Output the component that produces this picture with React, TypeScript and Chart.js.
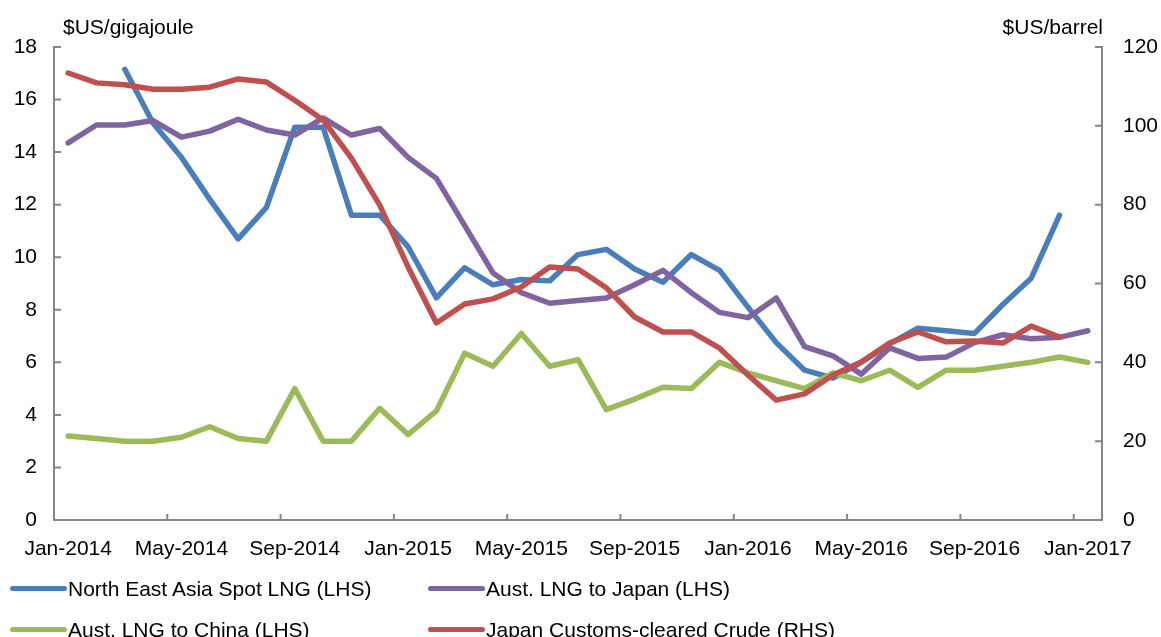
import React, { useEffect, useRef } from "react";
import { Chart, registerables } from "chart.js";

Chart.register(...registerables);

// ---------- data ----------
const months = [
  "Jan-2014", "Feb-2014", "Mar-2014", "Apr-2014", "May-2014", "Jun-2014", "Jul-2014", "Aug-2014", "Sep-2014", "Oct-2014", "Nov-2014", "Dec-2014",
  "Jan-2015", "Feb-2015", "Mar-2015", "Apr-2015", "May-2015", "Jun-2015", "Jul-2015", "Aug-2015", "Sep-2015", "Oct-2015", "Nov-2015", "Dec-2015",
  "Jan-2016", "Feb-2016", "Mar-2016", "Apr-2016", "May-2016", "Jun-2016", "Jul-2016", "Aug-2016", "Sep-2016", "Oct-2016", "Nov-2016", "Dec-2016",
  "Jan-2017",
];

const seriesNames = [
  "North East Asia Spot LNG (LHS)",
  "Aust. LNG to Japan (LHS)",
  "Aust. LNG to China (LHS)",
  "Japan Customs-cleared Crude (RHS)",
];

const northEastAsiaSpot = [
  null, null, 17.15, 15.1, 13.8, 12.2, 10.7, 11.9, 14.95, 14.95, 11.6, 11.6,
  10.4, 8.45, 9.6, 8.95, 9.15, 9.1, 10.1, 10.3, 9.55, 9.05, 10.1, 9.5,
  8.1, 6.75, 5.7, 5.4, 6.0, 6.7, 7.3, 7.2, 7.1, 8.2, 9.2, 11.6,
  null,
];

const austToJapan = [
  14.35, 15.03, 15.03, 15.2, 14.57, 14.8, 15.25, 14.84, 14.65, 15.3, 14.65, 14.9,
  13.8, 13.0, 11.2, 9.4, 8.65, 8.25, 8.35, 8.45, 8.95, 9.5, 8.65, 7.9,
  7.7, 8.45, 6.6, 6.25, 5.55, 6.55, 6.15, 6.2, 6.75, 7.05, 6.9, 6.95,
  7.2,
];

const austToChina = [
  3.2, 3.1, 3.0, 3.0, 3.15, 3.55, 3.1, 3.0, 5.0, 3.0, 3.0, 4.25,
  3.25, 4.15, 6.35, 5.85, 7.1, 5.85, 6.1, 4.2, 4.6, 5.05, 5.0, 6.0,
  5.6, 5.3, 5.0, 5.6, 5.3, 5.7, 5.05, 5.7, 5.7, 5.85, 6.0, 6.2,
  6.0,
];

const japanCrude = [
  113.4, 110.9, 110.4, 109.3, 109.3, 109.8, 111.9, 111.1, 106.5, 101.5, 91.8, 79.9,
  64.2, 50.0, 54.8, 56.1, 59.1, 64.2, 63.7, 58.9, 51.5, 47.7, 47.7, 43.6,
  36.8, 30.4, 32.0, 36.8, 40.1, 44.9, 47.7, 45.2, 45.4, 44.9, 49.2, 46.4,
  null,
];

const leftUnit = "$US/gigajoule";
const rightUnit = "$US/barrel";

// ---------- styles ----------
const W = 1161;
const H = 637;
const FONT = '"Liberation Sans", Arial, Helvetica, sans-serif';
const AXIS = "#868686";
const COLORS = ["#4A7EBB", "#8064A2", "#9BBB59", "#C0504D"];

const inwardTicks = {
  id: "inwardTicks",
  beforeDatasetsDraw(chart: any) {
    const { ctx, chartArea, scales } = chart;
    ctx.save();
    ctx.strokeStyle = AXIS;
    ctx.lineWidth = 2;
    ctx.beginPath();
    const x = scales.x;
    for (let i = 4; i < months.length; i += 4) {
      const px = (x.getPixelForValue(i) + x.getPixelForValue(i - 1)) / 2;
      ctx.moveTo(px, chartArea.bottom);
      ctx.lineTo(px, chartArea.bottom - 6);
    }
    const yl = scales.yL;
    yl.ticks.forEach((t: any) => {
      const py = yl.getPixelForValue(t.value);
      ctx.moveTo(chartArea.left, py);
      ctx.lineTo(chartArea.left + 7, py);
    });
    const yr = scales.yR;
    yr.ticks.forEach((t: any) => {
      const py = yr.getPixelForValue(t.value);
      ctx.moveTo(chartArea.right, py);
      ctx.lineTo(chartArea.right - 7, py);
    });
    ctx.stroke();
    ctx.restore();
  },
};

export default function App() {
  const ref = useRef<HTMLCanvasElement | null>(null);

  useEffect(() => {
    if (!ref.current) return;
    Chart.defaults.font.family = FONT;
    Chart.defaults.font.size = 21;
    Chart.defaults.color = "#000";

    const mk = (label: string, data: (number | null)[], color: string, axis: string, order: number) => ({
      label,
      data,
      borderColor: color,
      backgroundColor: color,
      borderWidth: 5.5,
      pointRadius: 0,
      tension: 0,
      borderCapStyle: "round" as const,
      borderJoinStyle: "round" as const,
      yAxisID: axis,
      order,
      spanGaps: false,
    });

    const chart = new Chart(ref.current, {
      type: "line",
      data: {
        labels: months,
        datasets: [
          mk(seriesNames[0], northEastAsiaSpot, COLORS[0], "yL", 4),
          mk(seriesNames[1], austToJapan, COLORS[1], "yL", 3),
          mk(seriesNames[2], austToChina, COLORS[2], "yL", 2),
          mk(seriesNames[3], japanCrude, COLORS[3], "yR", 1),
        ],
      },
      options: {
        animation: false,
        responsive: false,
        devicePixelRatio: 1,
        layout: { padding: { left: 0, right: 0, top: 47, bottom: 57 } },
        plugins: {
          legend: { display: false },
          tooltip: { enabled: false },
          title: { display: false },
        },
        scales: {
          x: {
            type: "category",
            offset: true,
            grid: { display: false, drawTicks: false },
            border: { display: true, color: AXIS, width: 2 },
            ticks: {
              autoSkip: false,
              maxRotation: 0,
              minRotation: 0,
              padding: 17,
              callback: (_v: any, i: number) => (i % 4 === 0 ? months[i] : ""),
            },
            afterFit: (s: any) => {
              s.height = 60;
            },
          },
          yL: {
            type: "linear",
            position: "left",
            min: 0,
            max: 18,
            grid: { display: false, drawTicks: false },
            border: { display: true, color: AXIS, width: 2 },
            ticks: { stepSize: 2, padding: 17 },
            afterFit: (s: any) => {
              s.width = 54;
            },
          },
          yR: {
            type: "linear",
            position: "right",
            min: 0,
            max: 120,
            grid: { display: false, drawTicks: false },
            border: { display: true, color: AXIS, width: 2 },
            ticks: { stepSize: 20, padding: 21 },
            afterFit: (s: any) => {
              s.width = 59;
            },
          },
        },
      } as any,
      plugins: [inwardTicks],
    });
    return () => chart.destroy();
  }, []);

  const textStyle: React.CSSProperties = {
    position: "absolute",
    fontFamily: FONT,
    fontSize: 21,
    lineHeight: "21px",
    color: "#000",
    whiteSpace: "nowrap",
  };

  const legendPos = [
    { left: 10, top: 578 },
    { left: 428, top: 578 },
    { left: 10, top: 619 },
    { left: 428, top: 619 },
  ];

  return (
    <div
      style={{
        position: "absolute",
        left: 0,
        top: 0,
        width: W,
        height: H,
        overflow: "hidden",
        background: "#fff",
      }}
    >
      <canvas
        ref={ref}
        width={W}
        height={H}
        style={{ position: "absolute", left: 0, top: 0, width: W, height: H }}
      />
      <div style={{ ...textStyle, left: 63, top: 16 }}>{leftUnit}</div>
      <div style={{ ...textStyle, right: W - 1103, top: 16 }}>{rightUnit}</div>
      {seriesNames.map((name, i) => (
        <div key={name} style={{ ...textStyle, left: legendPos[i].left, top: legendPos[i].top, display: "flex", alignItems: "center" }}>
          <span
            style={{
              display: "inline-block",
              width: 57,
              height: 5,
              borderRadius: 3,
              background: COLORS[i],
              marginRight: 1,
            }}
          />
          <span>{name}</span>
        </div>
      ))}
    </div>
  );
}
